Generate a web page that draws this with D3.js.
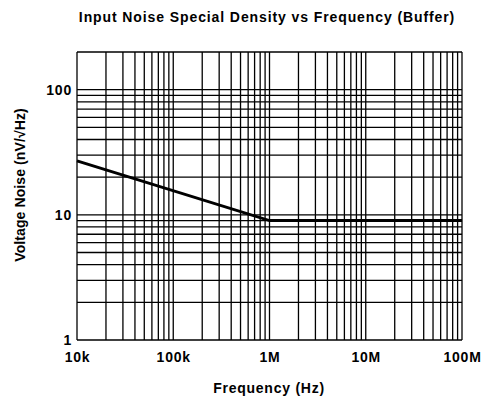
<!DOCTYPE html>
<html>
<head>
<meta charset="utf-8">
<script src="https://cdn.jsdelivr.net/npm/d3@7"></script>
<style>
  body { margin: 0; background: #fff; }
  text { font-family: "Liberation Sans", Arial, sans-serif; font-weight: bold; fill: #000; }
</style>
</head>
<body>
<div id="chart"></div>
<script>
// data
var freq = [1e4, 1e6, 1e8];          // Hz
var noise = [27, 9, 9];              // nV/rtHz
var xTicks = [1e4, 1e5, 1e6, 1e7, 1e8];
var xTickLabels = ["10k", "100k", "1M", "10M", "100M"];
var yTicks = [1, 10, 100];
var yTickLabels = ["1", "10", "100"];

var width = 481, height = 400;
var margin = {top: 52, right: 19, bottom: 60, left: 77};
var w = width - margin.left - margin.right;
var h = height - margin.top - margin.bottom;

var svg = d3.select("#chart").append("svg")
  .attr("width", width)
  .attr("height", height);

var g = svg.append("g")
  .attr("transform", "translate(" + margin.left + "," + margin.top + ")");

var x = d3.scaleLog().domain([1e4, 1e8]).range([0, w]);
var y = d3.scaleLog().domain([1, 200]).range([h, 0]);

// minor grid values: 1..9 per decade
var xGrid = [];
for (var e = 4; e < 8; e++) for (var m = 1; m < 10; m++) xGrid.push(m * Math.pow(10, e));
xGrid.push(1e8);
var yGrid = [];
for (var e2 = 0; e2 < 2; e2++) for (var m2 = 1; m2 < 10; m2++) yGrid.push(m2 * Math.pow(10, e2));
yGrid.push(100, 200);

g.selectAll(".vgrid").data(xGrid).enter().append("line")
  .attr("x1", function(d) { return x(d); })
  .attr("x2", function(d) { return x(d); })
  .attr("y1", 0).attr("y2", h)
  .attr("stroke", "#000").attr("stroke-width", 1.3);

g.selectAll(".hgrid").data(yGrid).enter().append("line")
  .attr("x1", 0).attr("x2", w)
  .attr("y1", function(d) { return y(d); })
  .attr("y2", function(d) { return y(d); })
  .attr("stroke", "#000").attr("stroke-width", 1.3);

// x axis labels
var xAxis = d3.axisBottom(x)
  .tickValues(xTicks)
  .tickFormat(function(d, i) { return xTickLabels[i]; })
  .tickSize(0)
  .tickPadding(12);
var xg = g.append("g").attr("transform", "translate(0," + h + ")").call(xAxis);
xg.select(".domain").remove();

// y axis labels
var yAxis = d3.axisLeft(y)
  .tickValues(yTicks)
  .tickFormat(function(d, i) { return yTickLabels[i]; })
  .tickSize(0)
  .tickPadding(5);
var yg = g.append("g").call(yAxis);
yg.select(".domain").remove();

svg.selectAll("g[font-family]").attr("font-family", null).attr("font-size", null);
svg.selectAll(".tick text")
  .attr("fill", "#000")
  .style("font-size", "14px")
  .style("letter-spacing", "0.8px");

// the curve
var line = d3.line()
  .x(function(d) { return x(d[0]); })
  .y(function(d) { return y(d[1]); });
g.append("path")
  .datum(d3.zip(freq, noise))
  .attr("d", line)
  .attr("fill", "none")
  .attr("stroke", "#000")
  .attr("stroke-width", 3);

// titles
svg.append("text")
  .attr("x", 267)
  .attr("y", 21.5)
  .attr("text-anchor", "middle")
  .style("font-size", "14px")
  .style("letter-spacing", "0.9px")
  .text("Input Noise Special Density vs Frequency (Buffer)");

svg.append("text")
  .attr("x", 269)
  .attr("y", 392.5)
  .attr("text-anchor", "middle")
  .style("font-size", "14px")
  .style("letter-spacing", "0.75px")
  .text("Frequency (Hz)");

svg.append("text")
  .attr("transform", "translate(25,185) rotate(-90)")
  .attr("text-anchor", "middle")
  .style("font-size", "14px")
  .style("letter-spacing", "0.1px")
  .text("Voltage Noise (nV/\u221AHz)");
</script>
</body>
</html>
